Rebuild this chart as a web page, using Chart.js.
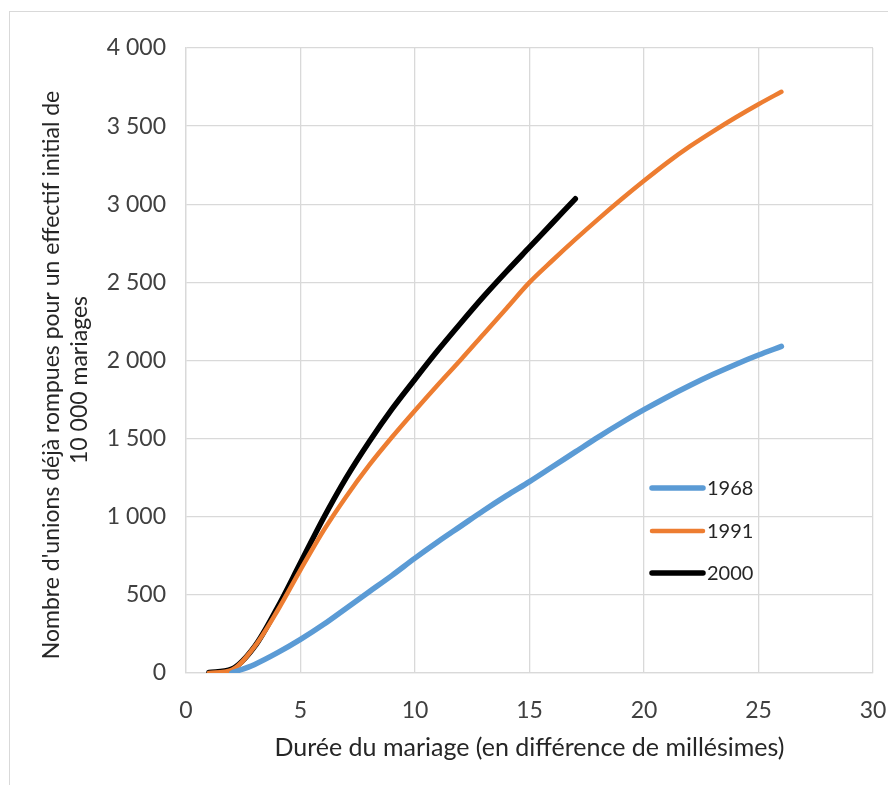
<!DOCTYPE html>
<html>
<head>
<meta charset="utf-8">
<script src="https://cdn.jsdelivr.net/npm/chart.js@4.4.1/dist/chart.umd.min.js"></script>
<style>
  html, body { margin: 0; padding: 0; background: #fff; }
  #wrap { position: relative; width: 888px; height: 785px; overflow: hidden; }
  #frame { position: absolute; left: 9px; top: 11px; width: 900px; height: 800px; border: 1px solid #d9d9d9; box-sizing: border-box; }
  #chart { position: absolute; left: 0; top: 0; }
</style>
</head>
<body>
<div id="wrap">
  <div id="frame"></div>
  <canvas id="chart" width="888" height="785"></canvas>
</div>
<script>
// Durée du mariage (x) and cumulative broken unions per 10 000 marriages
const durations = [1, 2, 3, 4, 5, 6, 7, 8, 9, 10, 11, 12, 13, 14, 15, 16, 17, 18, 19, 20, 21, 22, 23, 24, 25, 26];
const values1968 = [null, 0, 55, 130, 215, 310, 415, 520, 625, 735, 840, 940, 1040, 1135, 1225, 1320, 1415, 1510, 1600, 1685, 1765, 1840, 1910, 1975, 2035, 2090];
const values1991 = [0, 20, 170, 400, 660, 910, 1130, 1330, 1510, 1680, 1845, 2005, 2170, 2335, 2500, 2640, 2775, 2905, 3030, 3150, 3265, 3370, 3465, 3555, 3640, 3720];
const values2000 = [3, 25, 170, 420, 705, 990, 1250, 1480, 1690, 1880, 2065, 2240, 2410, 2570, 2725, 2880, 3035];
const seriesNames = ['1968', '1991', '2000'];
const yTicks = [0, 500, 1000, 1500, 2000, 2500, 3000, 3500, 4000];
const xTicks = [0, 5, 10, 15, 20, 25, 30];
const xTitle = 'Durée du mariage (en différence de millésimes)';
const yTitle = ["Nombre d'unions déjà rompues pour un effectif initial de", '10 000 mariages'];

const colors = ['#5B9BD5', '#ED7D31', '#000000'];
const widths = [5.5, 4.5, 5.5];
const FONT = 'Lato, "Open Sans", sans-serif';

function toPoints(vals) {
    return vals.map((v, i) => ({ x: durations[i], y: v })).filter(p => p.y !== null);
}

function fmt(v) {
    return String(v).replace(/\B(?=(\d{3})+(?!\d))/g, ' ');
}

// legend drawn inside the plot like in the Excel chart
const insideLegend = {
    id: 'insideLegend',
    afterDraw(chart) {
        const ctx = chart.ctx;
        const rows = [488, 531, 573];
        ctx.save();
        chart.data.datasets.forEach((ds, i) => {
            ctx.beginPath();
            ctx.strokeStyle = ds.borderColor;
            ctx.lineWidth = ds.borderWidth;
            ctx.lineCap = 'round';
            ctx.moveTo(652, rows[i]);
            ctx.lineTo(703, rows[i]);
            ctx.stroke();
            ctx.fillStyle = '#262626';
            ctx.font = '20px ' + FONT;
            ctx.textBaseline = 'middle';
            ctx.fillText(ds.label, 707, rows[i] + 1);
        });
        ctx.restore();
    }
};

// rotated two-line y title, sits a bit lower than the scale centre
const yAxisTitle = {
    id: 'yAxisTitle',
    afterDraw(chart) {
        const ctx = chart.ctx;
        const pos = [[52, 375], [80, 380]];
        ctx.save();
        ctx.fillStyle = '#262626';
        ctx.font = '23px ' + FONT;
        ctx.textAlign = 'center';
        ctx.textBaseline = 'middle';
        yTitle.forEach((line, i) => {
            ctx.save();
            ctx.translate(pos[i][0], pos[i][1]);
            ctx.rotate(-Math.PI / 2);
            ctx.fillText(line, 0, 0);
            ctx.restore();
        });
        ctx.restore();
    }
};

new Chart(document.getElementById('chart'), {
    type: 'scatter',
    data: {
        datasets: [values1968, values1991, values2000].map((vals, i) => ({
            label: seriesNames[i],
            data: toPoints(vals),
            showLine: true,
            borderColor: colors[i],
            backgroundColor: colors[i],
            borderWidth: widths[i],
            borderCapStyle: 'round',
            borderJoinStyle: 'round',
            pointRadius: 0,
            pointHoverRadius: 0,
            cubicInterpolationMode: 'monotone'
        }))
    },
    options: {
        responsive: false,
        animation: false,
        layout: { padding: { top: 48, right: 15, bottom: 0, left: 0 } },
        plugins: {
            legend: { display: false },
            tooltip: { enabled: false }
        },
        scales: {
            x: {
                type: 'linear',
                min: 0,
                max: 30,
                afterBuildTicks(scale) { scale.ticks = xTicks.map(v => ({ value: v })); },
                afterFit(scale) {
                    scale.height = 112;
                    scale.paddingLeft = 0;
                    scale.paddingRight = 0;
                },
                grid: { color: '#d9d9d9', lineWidth: 1.3, drawTicks: false },
                border: { color: '#d9d9d9', width: 1.3 },
                ticks: { padding: 24, color: '#404040', font: { family: FONT, size: 23 }, maxRotation: 0 },
                title: {
                    display: true,
                    text: xTitle,
                    color: '#262626',
                    font: { family: FONT, size: 25, lineHeight: 1.2 },
                    padding: { top: 0, bottom: 22 }
                }
            },
            y: {
                min: 0,
                max: 4000,
                afterBuildTicks(scale) { scale.ticks = yTicks.map(v => ({ value: v })); },
                afterFit(scale) { scale.width = 186; },
                grid: { color: '#d9d9d9', lineWidth: 1.3, drawTicks: false },
                border: { color: '#d9d9d9', width: 1.3 },
                ticks: {
                    padding: 20,
                    color: '#404040',
                    font: { family: FONT, size: 23 },
                    callback: v => fmt(v)
                },
                title: { display: false }
            }
        }
    },
    plugins: [insideLegend, yAxisTitle]
});
</script>
</body>
</html>
